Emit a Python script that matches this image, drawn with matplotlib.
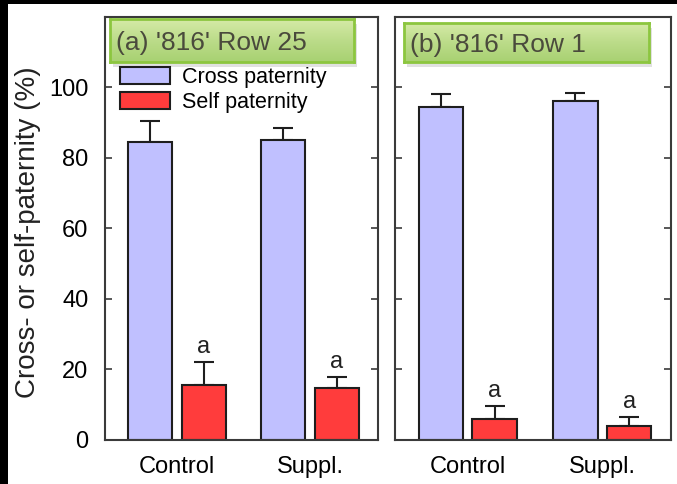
import numpy as np
import matplotlib
matplotlib.use("Agg")
import matplotlib.pyplot as plt
from matplotlib.patches import Rectangle

plt.rcParams['font.family'] = ['Liberation Sans', 'DejaVu Sans']

# --- data ---
groups = ["Control", "Suppl."]
titles = ["(a) '816' Row 25", "(b) '816' Row 1"]
cross_mean = [[84.4, 85.0], [94.3, 96.2]]
cross_err = [[6.0, 3.4], [3.9, 2.3]]
self_mean = [[15.6, 14.7], [5.8, 3.9]]
self_err = [[6.3, 3.1], [3.7, 2.4]]
self_letters = [["a", "a"], ["a", "a"]]
yticks = [0, 20, 40, 60, 80, 100]

CROSS_COL = "#c0c0ff"
SELF_COL = "#ff3c3c"
EDGE = "#1e1e1e"
SPINE = "#3a3a3a"

fig = plt.figure(figsize=(6.77, 4.84), dpi=100)
fig.patch.set_facecolor("white")

# black frame strip on left and top (screenshot edge)
fig.patches.append(Rectangle((0, 0), 8 / 677, 1, transform=fig.transFigure,
                             facecolor="black", edgecolor="none", zorder=10))
fig.patches.append(Rectangle((0, 1 - 4 / 484), 1, 4 / 484, transform=fig.transFigure,
                             facecolor="black", edgecolor="none", zorder=10))

ax_a = fig.add_axes([105 / 677, 1 - 439.5 / 484, 273 / 677, 422.5 / 484])
ax_b = fig.add_axes([395 / 677, 1 - 439.5 / 484, 276 / 677, 422.5 / 484])
axes = [ax_a, ax_b]

x = np.arange(len(groups))
w = 0.33
off = 0.2
box_pos = [(0.018, 0.893, 0.894, 0.102), (0.033, 0.893, 0.887, 0.093)]

grad = np.linspace(0, 1, 64).reshape(-1, 1)
green_cmap = matplotlib.colors.LinearSegmentedColormap.from_list(
    "g", ["#d6eba8", "#bcdc8a", "#a8d172"])

for i, ax in enumerate(axes):
    ax.bar(x - off, cross_mean[i], w, color=CROSS_COL, edgecolor=EDGE, linewidth=1.5,
           label="Cross paternity", zorder=2)
    ax.bar(x + off, self_mean[i], w, color=SELF_COL, edgecolor=EDGE, linewidth=1.5,
           label="Self paternity", zorder=2)
    ax.errorbar(x - off, cross_mean[i], yerr=[np.zeros(2), cross_err[i]], fmt="none",
                ecolor=EDGE, elinewidth=1.5, capsize=7, capthick=1.5, zorder=1)
    ax.errorbar(x + off, self_mean[i], yerr=[np.zeros(2), self_err[i]], fmt="none",
                ecolor=EDGE, elinewidth=1.5, capsize=7, capthick=1.5, zorder=1)
    for j in range(len(groups)):
        ax.text(x[j] + off, self_mean[i][j] + self_err[i][j] + 1.2, self_letters[i][j],
                ha="center", va="bottom", fontsize=17, color="#222222")

    ax.set_xlim(-0.54, 1.51)
    ax.set_ylim(0, 120)
    ax.set_yticks(yticks)
    ax.set_xticks(x)
    ax.set_xticklabels(groups)
    ax.tick_params(axis="y", direction="in", length=5, width=1.2, left=True, right=True,
                   color=SPINE, labelsize=17, pad=12)
    ax.tick_params(axis="x", length=0, labelsize=17, pad=12)
    for s in ax.spines.values():
        s.set_color(SPINE)
        s.set_linewidth(1.5)
    if i == 1:
        ax.set_yticklabels([])

    # green title box with soft shadow
    bx, by, bw, bh = box_pos[i]
    ax.add_patch(Rectangle((bx + 0.012, by - 0.012), bw, bh, transform=ax.transAxes,
                           facecolor="#888888", alpha=0.25, edgecolor="none", zorder=3))
    tb = ax.inset_axes([bx, by, bw, bh], zorder=4)
    tb.imshow(grad, cmap=green_cmap, aspect="auto", extent=[0, 1, 0, 1])
    tb.set_xticks([])
    tb.set_yticks([])
    for s in tb.spines.values():
        s.set_color("#8cc63f")
        s.set_linewidth(2)
    tb.text(0.025, 0.45, titles[i], transform=tb.transAxes, ha="left", va="center",
            fontsize=19, color="#4a4a3c")

ax_a.set_ylabel("Cross- or self-paternity (%)", fontsize=20, color="#222222")
ax_a.yaxis.set_label_coords(-0.235, 0.49)

ax_a.legend(loc="upper left", bbox_to_anchor=(0.055, 0.882), frameon=False, fontsize=15.5,
            handlelength=2.3, handleheight=0.8, handletextpad=0.6, labelspacing=0.2,
            borderpad=0, borderaxespad=0)

fig.savefig("out.png", dpi=100)
